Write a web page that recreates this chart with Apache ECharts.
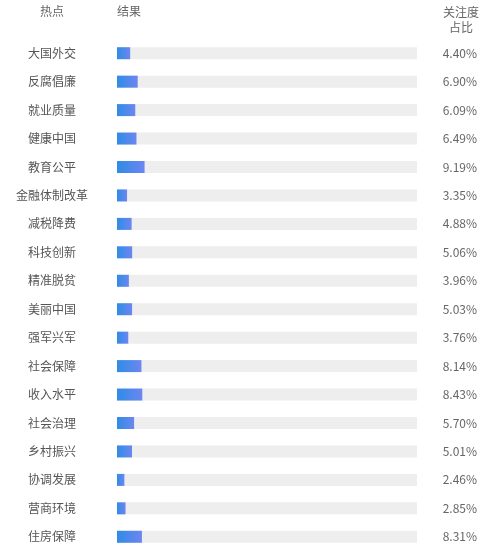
<!DOCTYPE html>
<html>
<head>
<meta charset="utf-8">
<script src="https://cdn.jsdelivr.net/npm/echarts@6/dist/echarts.min.js"></script>
<style>
  html, body { margin: 0; padding: 0; background: #fff; }
  #main { width: 491px; height: 551px; }
</style>
</head>
<body>
<div id="main"></div>
<script>
// 热点名称
var hotspots = ['大国外交', '反腐倡廉', '就业质量', '健康中国', '教育公平', '金融体制改革',
    '减税降费', '科技创新', '精准脱贫', '美丽中国', '强军兴军', '社会保障',
    '收入水平', '社会治理', '乡村振兴', '协调发展', '营商环境', '住房保障'];
// 关注度占比 (%)
var shares = [4.40, 6.90, 6.09, 6.49, 9.19, 3.35, 4.88, 5.06, 3.96, 5.03, 3.76, 8.14,
    8.43, 5.70, 5.01, 2.46, 2.85, 8.31];
var headers = ['热点', '结果', '关注度\n占比'];

var font = '"Noto Sans CJK SC", sans-serif';
var myChart = echarts.init(document.getElementById('main'));

var option = {
    animation: false,
    textStyle: { fontFamily: font },
    grid: { left: 117, right: 74, top: 39, height: 514, containLabel: false },
    graphic: [
        { type: 'text', style: { x: 52, y: 5, text: headers[0], fill: '#666', font: '12px ' + font, textAlign: 'center' } },
        { type: 'text', style: { x: 117, y: 5, text: headers[1], fill: '#666', font: '12px ' + font } },
        { type: 'text', style: { x: 461, y: 5, text: headers[2], fill: '#666', font: '12px ' + font, textAlign: 'center', lineHeight: 15 } }
    ],
    xAxis: { type: 'value', min: 0, max: 100, show: false },
    yAxis: [{
        type: 'category',
        inverse: true,
        data: hotspots,
        axisLine: { show: false },
        axisTick: { show: false },
        axisLabel: { color: '#555', fontSize: 12, align: 'center', margin: 65, fontFamily: font }
    }, {
        type: 'category',
        inverse: true,
        position: 'right',
        data: shares.map(function (v) { return v.toFixed(2) + '%'; }),
        axisLine: { show: false },
        axisTick: { show: false },
        axisLabel: { color: '#666', fontSize: 12, align: 'right', margin: 60, fontFamily: font }
    }],
    series: [{
        type: 'bar',
        data: shares,
        barWidth: 12,
        showBackground: true,
        backgroundStyle: { color: '#eeeeee' },
        itemStyle: {
            color: new echarts.graphic.LinearGradient(0, 0, 1, 0, [
                { offset: 0, color: '#2f8ce5' },
                { offset: 1, color: '#6d86f1' }
            ])
        }
    }]
};
myChart.setOption(option);
</script>
</body>
</html>
